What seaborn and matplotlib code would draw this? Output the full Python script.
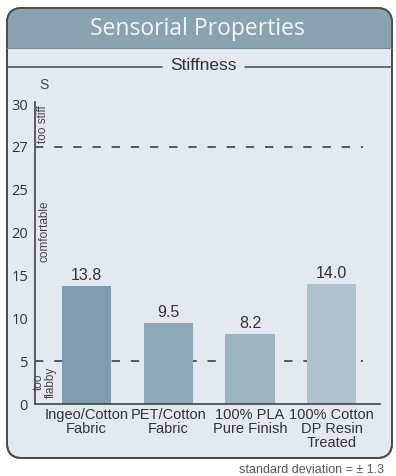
import numpy as np
import matplotlib
matplotlib.use("Agg")
import matplotlib.pyplot as plt
from matplotlib.patches import FancyBboxPatch, Rectangle
import seaborn as sns

# Data
categories = ["Ingeo/Cotton\nFabric", "PET/Cotton\nFabric", "100% PLA\nPure Finish", "100% Cotton\nDP Resin\nTreated"]
stiffness = [13.8, 9.5, 8.2, 14.0]
bar_colors = ["#7f9dac", "#8eaab8", "#9cb3c0", "#afc2cd"]
y_ticks = [0, 5, 10, 15, 20, 25, 27, 30]
limits = [5, 27]

sns.set_style("white")
plt.rcParams["font.family"] = ["Liberation Sans", "DejaVu Sans"]

W, H = 396, 476
fig = plt.figure(figsize=(W / 100, H / 100), dpi=100)
fig.patch.set_facecolor("white")

# Background axes in pixel units for the rounded panel
bg = fig.add_axes([0, 0, 1, 1])
bg.set_xlim(0, W)
bg.set_ylim(H, 0)
bg.axis("off")

panel = FancyBboxPatch((7, 8), 385, 450, boxstyle="round,pad=0,rounding_size=15",
                       facecolor="#e3e9f0", edgecolor="#4a4a4a", linewidth=1.3, zorder=1)
bg.add_patch(panel)
header = Rectangle((7, 8), 385, 40, facecolor="#8aa3b1", edgecolor="none", zorder=2)
bg.add_patch(header)
header.set_clip_path(panel)
border = FancyBboxPatch((7, 8), 385, 450, boxstyle="round,pad=0,rounding_size=15",
                        facecolor="none", edgecolor="#4a4a4a", linewidth=1.3, zorder=3)
bg.add_patch(border)
bg.plot([7, 392], [48, 48], color="#7a8a94", lw=0.8, zorder=3)

bg.text(197, 29, "Sensorial Properties", ha="center", va="center", fontsize=16.5,
        color="#f3f6f8", family=["Open Sans", "DejaVu Sans"], zorder=4)
bg.text(203, 65, "Stiffness", ha="center", va="center", fontsize=12.5, color="#333333", zorder=4)
bg.plot([7, 162], [67, 67], color="#555555", lw=1.2, zorder=3)
bg.plot([245, 392], [67, 67], color="#555555", lw=1.2, zorder=3)
bg.text(384, 470, "standard deviation = \u00b1 1.3", ha="right", va="center", fontsize=9,
        color="#555555")


# Piecewise scale: the upper band of the axis is stretched
def fwd(v):
    v = np.asarray(v, dtype=float)
    return np.where(v <= 25, v, np.where(v <= 27, 25 + (v - 25) * 2.5, 30 + (v - 27) * 5 / 3))


def inv(u):
    u = np.asarray(u, dtype=float)
    return np.where(u <= 25, u, np.where(u <= 30, 25 + (u - 25) / 2.5, 27 + (u - 30) * 0.6))


ax = fig.add_axes([35 / W, 72 / H, 345 / W, 302 / H], zorder=5)
ax.patch.set_alpha(0)
sns.barplot(x=categories, y=stiffness, hue=categories, palette=bar_colors, width=0.6,
            legend=False, ax=ax, saturation=1, linewidth=0, edgecolor="none", zorder=2)
ax.set_yscale("function", functions=(fwd, inv))
ax.set_ylim(0, 30.15)
ax.set_xlim(-0.63, 3.59)

for lim in limits:
    ax.axhline(lim, xmin=0, xmax=0.95, color="#3f3f3f", lw=1.2,
               linestyle=(0, (5.0, 6.5)), zorder=1)

for c in ax.containers:
    ax.bar_label(c, fmt="%.1f", padding=2, fontsize=11.5, color="#333333")

ax.set_yticks(y_ticks)
ax.set_yticklabels([str(t) for t in y_ticks], family=["Open Sans", "DejaVu Sans"],
                   fontsize=10.5, color="#333333")
ax.yaxis.set_minor_locator(matplotlib.ticker.NullLocator())
ax.tick_params(axis="y", length=0, pad=5)
ax.tick_params(axis="x", length=0, pad=3, labelsize=10.5, labelcolor="#333333")
for lbl in ax.get_xticklabels():
    lbl.set_linespacing(1.0)
ax.set_xlabel("")
ax.set_ylabel("")
for side in ("top", "right"):
    ax.spines[side].set_visible(False)
for side in ("left", "bottom"):
    ax.spines[side].set_color("#444444")
    ax.spines[side].set_linewidth(1.2)

# Zone annotations along the axis
bg.text(43.5, 85, "S", ha="center", va="center", fontsize=10, color="#444444", zorder=6)
bg.text(42.5, 124, "too stiff", rotation=90, ha="center", va="center", fontsize=8.5,
        color="#444444", zorder=6)
bg.text(44.5, 231, "comfortable", rotation=90, ha="center", va="center", fontsize=8.5,
        color="#444444", zorder=6)
bg.text(45, 382, "too\nflabby", rotation=90, ha="center", va="center", fontsize=8.5,
        color="#444444", linespacing=1.05, zorder=6)

fig.savefig("out.png", dpi=100)
